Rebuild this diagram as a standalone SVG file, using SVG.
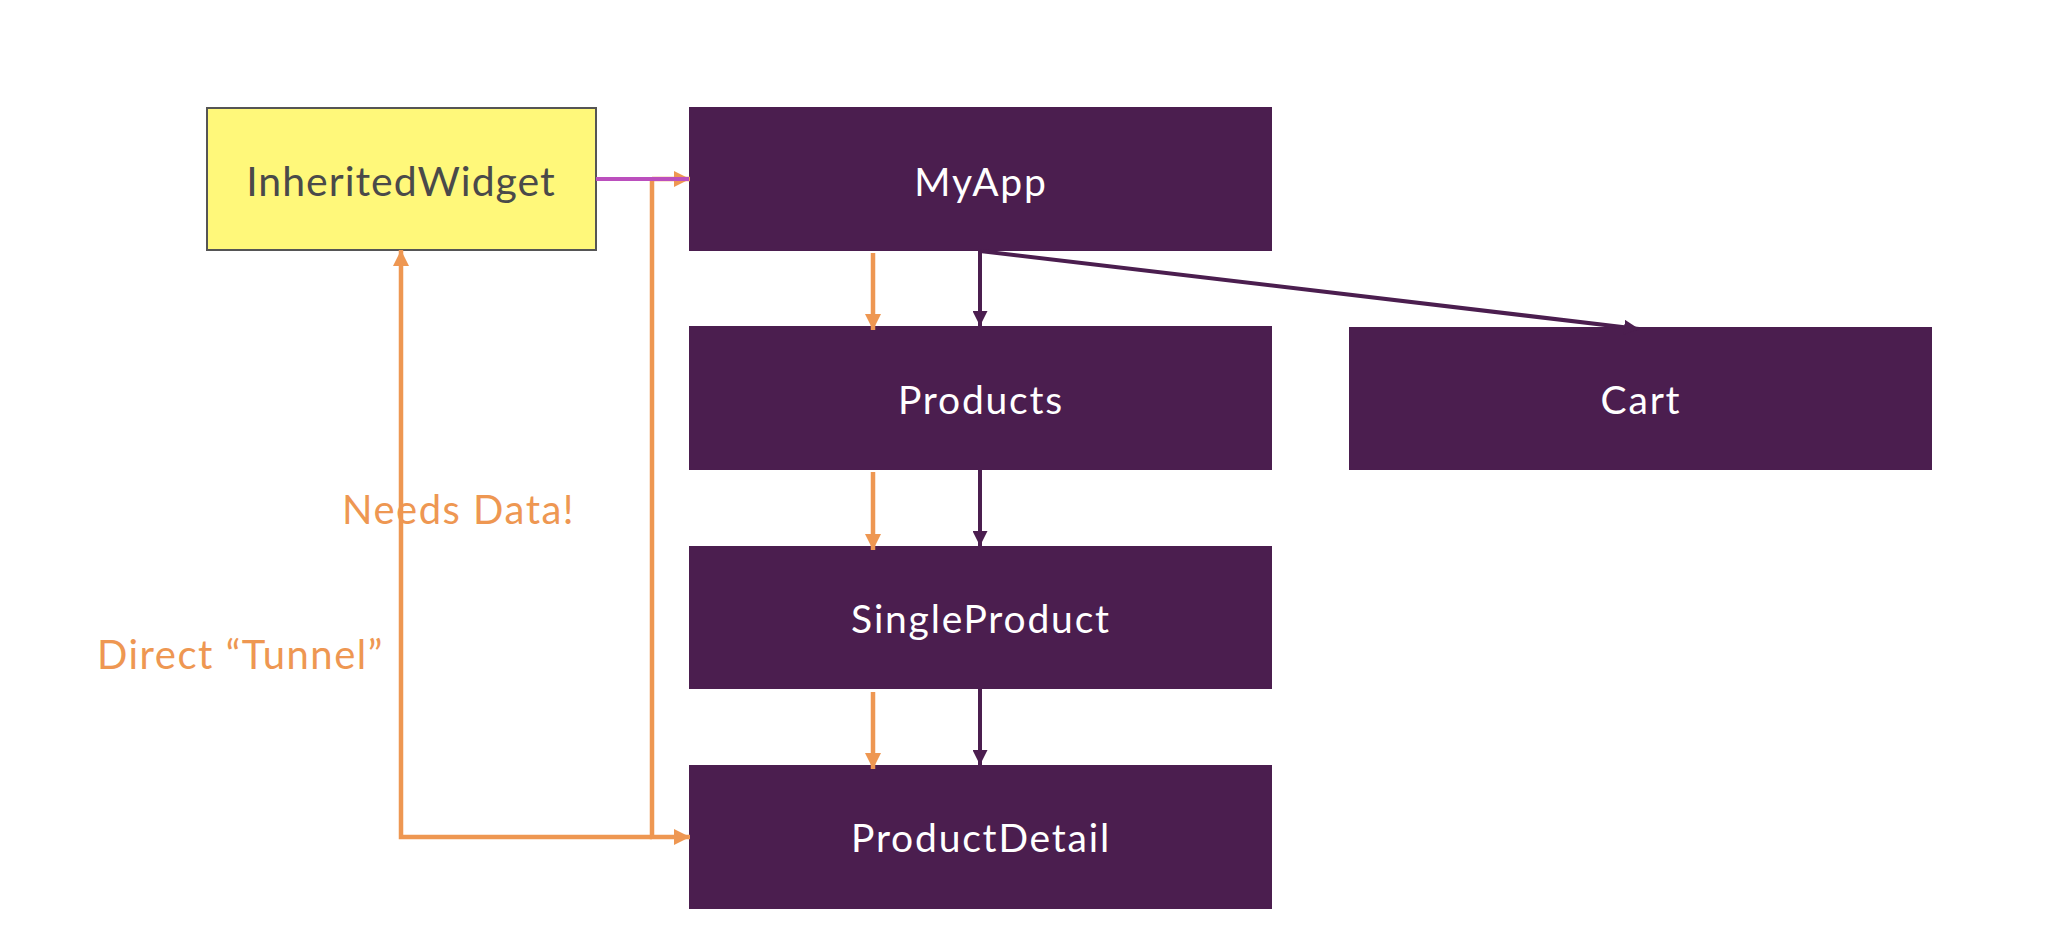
<svg xmlns="http://www.w3.org/2000/svg" width="2052" height="940" viewBox="0 0 2052 940">
<style>
.box{fill:#4b1e4f}
.lbl{font-family:Lato,"Open Sans",sans-serif;font-size:39px;fill:#ffffff;text-anchor:middle;letter-spacing:1.8px}
.org{stroke:#ee9752;stroke-width:4.5;fill:none}
.pur{stroke:#4b1e4f;stroke-width:4;fill:none}
.note{font-family:Lato,"Open Sans",sans-serif;font-size:40px;fill:#ee9752;letter-spacing:1.5px}
</style>
<defs>
<marker id="ao" markerUnits="userSpaceOnUse" markerWidth="16" markerHeight="16" refX="16" refY="8" orient="auto" viewBox="0 0 16 16"><path d="M0,0 L16,8 L0,16 z" fill="#ee9752"/></marker>
<marker id="ap" markerUnits="userSpaceOnUse" markerWidth="15" markerHeight="15" refX="15" refY="7.5" orient="auto" viewBox="0 0 15 15"><path d="M0,0 L15,7.5 L0,15 z" fill="#4b1e4f"/></marker>
</defs>
<rect width="2052" height="940" fill="#ffffff"/>
<g id="node-inheritedwidget">
<rect x="207" y="108" width="389" height="142" fill="#fff87a" stroke="#555555" stroke-width="2"/>
<text x="401" y="196" font-family="Lato,'Open Sans',sans-serif" font-size="41" fill="#4a4a4a" text-anchor="middle" letter-spacing="1px">InheritedWidget</text>
</g>
<g id="node-myapp"><rect class="box" x="689" y="107" width="583" height="144"/><text class="lbl" x="981" y="196">MyApp</text></g>
<g id="node-products"><rect class="box" x="689" y="326" width="583" height="144"/><text class="lbl" x="981" y="414">Products</text></g>
<g id="node-cart"><rect class="box" x="1349" y="327" width="583" height="143"/><text class="lbl" x="1641" y="414">Cart</text></g>
<g id="node-singleproduct"><rect class="box" x="689" y="546" width="583" height="143"/><text class="lbl" x="981" y="633">SingleProduct</text></g>
<g id="node-productdetail"><rect class="box" x="689" y="765" width="583" height="144"/><text class="lbl" x="981" y="852">ProductDetail</text></g>
<g id="connectors">
<line class="org" x1="873" y1="253" x2="873" y2="330" marker-end="url(#ao)"/>
<line class="org" x1="873" y1="472" x2="873" y2="550" marker-end="url(#ao)"/>
<line class="org" x1="873" y1="692" x2="873" y2="769" marker-end="url(#ao)"/>
<line class="pur" x1="980" y1="251" x2="980" y2="326" marker-end="url(#ap)"/>
<line class="pur" x1="980" y1="470" x2="980" y2="546" marker-end="url(#ap)"/>
<line class="pur" x1="980" y1="689" x2="980" y2="765" marker-end="url(#ap)"/>
<line class="pur" x1="980" y1="251" x2="1639" y2="329" marker-end="url(#ap)"/>
<path class="org" d="M652,837 H401 V250" marker-end="url(#ao)"/>
<path class="org" d="M652,179 V837 H690" marker-end="url(#ao)"/>
<line class="org" x1="652" y1="179" x2="690" y2="179" marker-end="url(#ao)"/>
<line x1="596" y1="179" x2="689" y2="179" stroke="#bb4fbd" stroke-width="4"/>
</g>
<text class="note" x="342" y="524">Needs Data!</text>
<text class="note" x="97" y="669">Direct “Tunnel”</text>
</svg>
